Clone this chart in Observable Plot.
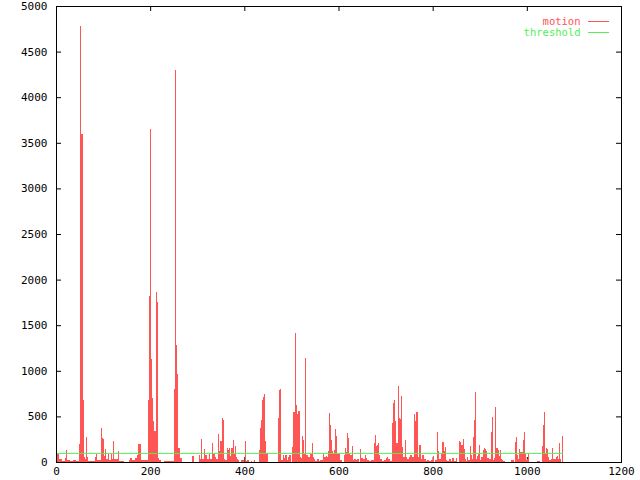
<!DOCTYPE html>
<html>
<head>
<meta charset="utf-8">
<script src="https://cdn.jsdelivr.net/npm/d3@7"></script>
<script src="https://cdn.jsdelivr.net/npm/@observablehq/plot@0.6"></script>
<style>
  html, body { margin: 0; padding: 0; background: #ffffff; }
  #chart { width: 640px; height: 480px; }
</style>
</head>
<body>
<div id="chart"></div>
<script>
// ---- data ----
const seriesNames = ["motion", "threshold"];
const seriesColors = ["#ff5555", "#55ee55"];
const xTicks = [0, 200, 400, 600, 800, 1000, 1200];
const yTicks = [0, 500, 1000, 1500, 2000, 2500, 3000, 3500, 4000, 4500, 5000];
const thresholdValue = 100;
const motionEnd = 1077;

// start of each run of frames and its motion value (each run lasts until the next start)
const motionStart = [
  0, 3, 7, 12, 20, 21.6, 23.7, 30, 36, 42, 47.8, 50, 52, 54, 56.5, 58.5, 61.3, 62.7, 64.8, 67,
  69, 81.8, 84.7, 86.8, 94.6, 96.7, 98.9, 101, 104.5, 106.6, 110.2, 113, 115.9, 118, 120.1, 122.2,
  130.7, 132.2, 134.3, 143.5, 154, 158, 161, 164.7, 168, 171.8, 174.7, 180.3, 194.5, 197, 199,
  201, 203, 205, 207, 209, 213, 215.5, 217.5, 218.6, 223, 228.5, 249.8, 253.3, 255.5, 257.3, 259,
  263, 267.5, 288.7, 292.3, 302.9, 305.7, 307.8, 310, 313.5, 315.6, 320.6, 324.9, 327, 330.5,
  333.4, 336.9, 339.7, 343.3, 346.1, 349, 351.8, 353.9, 356, 358.9, 363.1, 366, 368, 370.2,
  372.3, 375.2, 377.3, 379.4, 382.2, 384.4, 386.5, 389.3, 393, 395.7, 398.5, 400.7, 402.8,
  406.3, 410.6, 414.8, 417, 419.8, 422, 430.4, 433.3, 435.4, 437.5, 439.6, 441.8, 443.9, 446.7,
  449.6, 470.8, 473.7, 476.5, 478.6, 481.5, 484.3, 487.1, 490, 492.8, 495.6, 498.5, 501.3,
  504.1, 507, 508.6, 510.4, 512.6, 514.8, 517.6, 520.4, 522.6, 524.7, 526.8, 528.6, 530.6,
  534.6, 537.4, 540.3, 543.1, 545.9, 547.4, 551, 554.5, 558, 561.6, 566.5, 569.4, 572.9, 575.7,
  577.9, 580, 582.1, 583.5, 585.7, 587.8, 590.6, 592.7, 594.9, 597, 599.8, 604.1, 607.6, 611.2,
  614, 616.1, 618.3, 620.4, 622.5, 625.3, 628.2, 629.6, 631.7, 633.8, 636.7, 639.5, 643, 646.6,
  648.7, 651.5, 655.8, 657.9, 660.8, 665.7, 669.3, 672.1, 674.9, 677.8, 679.9, 682, 684.9, 687,
  689.1, 692.7, 696.2, 700.5, 703.3, 706.1, 709.7, 713.2, 715.3, 717.5, 718.9, 721, 723.1, 726,
  728.1, 730.2, 733.1, 735.2, 737.3, 741.6, 743.7, 746.5, 749.4, 752.9, 755.8, 760, 762.1,
  764.2, 769.2, 772, 774.2, 777, 781.2, 785.5, 788.3, 791.9, 795.4, 799, 801.1, 803.2, 806,
  808.2, 810.3, 813.1, 817.4, 820.2, 823.8, 826, 828, 830.9, 834.4, 838, 841.5, 845, 848.6,
  852.1, 855, 857.8, 860.6, 864.2, 866.3, 868.4, 870.6, 872.7, 874.8, 879, 881.2, 883.3, 885.4,
  887.5, 889.7, 891.8, 893.9, 896.1, 898.2, 900.3, 902.5, 906.7, 908.9, 911, 913.1, 915.9,
  918.8, 923, 925.1, 927.3, 928.7, 930.8, 933, 935, 937.9, 940, 942.1, 944.3, 947.8, 949.9,
  952.8, 965.5, 972.6, 974.7, 976.9, 979, 981.8, 984, 986.1, 991, 993.2, 995.3, 998.1, 1000.9,
  1003.1, 1005.2, 1022.2, 1027.2, 1031.4, 1033.5, 1036.4, 1038.5, 1040.6, 1042.8, 1045.6,
  1047.7, 1050.6, 1052.7, 1054.8, 1061.9, 1064, 1066.2, 1068.3, 1070.4, 1072.5, 1074.7
];
const motionValue = [
  330, 88, 37, 15, 40, 135, 20, 10, 18, 12, 197, 1020, 4780, 3600, 680, 60, 30, 274, 50, 20,
  10, 58, 84, 20, 373, 263, 252, 69, 142, 37, 84, 22, 84, 37, 234, 30,
  20, 124, 10, 5, 25, 40, 20, 25, 45, 73, 201, 20, 680, 1820, 3651,
  1129, 700, 900, 450, 340, 1864, 1754, 40, 22, 3, 10, 800, 4298, 1283, 965, 150,
  40, 5, 66, 5, 77, 30, 252, 33, 143, 77, 30, 88, 33, 212,
  84, 51, 33, 310, 120, 230, 482, 460, 37, 22, 150, 131, 150, 69,
  150, 241, 84, 175, 58, 33, 22, 4, 20, 26, 3, 234, 10,
  20, 4, 10, 4, 22, 2, 131, 376, 460, 680, 716, 742, 234, 95,
  5, 479, 790, 800, 22, 77, 40, 77, 22, 58, 73, 5, 161,
  552, 1231, 1418, 621, 523, 559, 51, 40, 285, 241, 84, 1140, 77,
  51, 58, 91, 212, 58, 37, 10, 37, 10, 20, 84, 51, 69, 58,
  117, 533, 402, 241, 117, 84, 131, 361, 285, 95, 88, 22, 2, 77,
  150, 113, 318, 263, 84, 77, 120, 179, 22, 37, 22, 33, 2, 146,
  40, 33, 77, 40, 26, 10, 26, 22, 208, 296, 175, 186, 204, 77,
  37, 10, 26, 40, 51, 33, 10, 424, 643, 442, 680, 450, 204, 830,
  479, 468, 724, 161, 58, 241, 58, 37, 50, 77, 58, 526, 453,
  548, 58, 186, 33, 77, 37, 10, 26, 10, 26, 22, 66, 4, 22,
  332, 117, 37, 84, 223, 124, 161, 22, 10, 37, 10, 48, 10, 40,
  4, 234, 219, 186, 252, 146, 37, 10, 51, 22, 179, 77, 37, 270,
  460, 772, 30, 69, 84, 186, 22, 51, 131, 157, 139, 117, 40,
  37, 332, 497, 37, 22, 40, 607, 150, 131, 69, 131, 37, 22, 10,
  2, 22, 2, 223, 270, 77, 37, 142, 113, 241, 332, 95, 22, 37,
  91, 2, 10, 4, 175, 406, 552, 95, 150, 139, 51,
  22, 37, 150, 37, 58, 69, 37, 204, 37, 2, 285
];

// table for the library
const motionRuns = motionStart.map((s, i) => ({
  x1: s,
  x2: i + 1 < motionStart.length ? motionStart[i + 1] : motionEnd,
  value: motionValue[i]
}));

// legend swatch lines, placed relative to the frame's top-right corner
function legendSwatches(index, scales, values, dims) {
  const ns = "http://www.w3.org/2000/svg";
  const g = document.createElementNS(ns, "g");
  const right = dims.width - dims.marginRight;
  seriesNames.forEach((name, i) => {
    const line = document.createElementNS(ns, "line");
    const yy = dims.marginTop + 15.5 + i * 11;
    line.setAttribute("x1", right - 33);
    line.setAttribute("x2", right - 12);
    line.setAttribute("y1", yy);
    line.setAttribute("y2", yy);
    line.setAttribute("stroke", seriesColors[i]);
    line.setAttribute("stroke-width", 1);
    g.appendChild(line);
  });
  return g;
}

const chart = Plot.plot({
  width: 640,
  height: 480,
  marginLeft: 56,
  marginRight: 19,
  marginTop: 6,
  marginBottom: 18,
  x: { domain: [0, 1200], label: null },
  y: { domain: [0, 5000], label: null },
  style: { fontFamily: "'DejaVu Sans Mono', monospace", fontSize: "11px", background: "#ffffff", color: "#000000" },
  marks: [
    // inward tick marks on all four sides
    Plot.ruleX(xTicks, { insetTop: 451, stroke: "#000000" }),
    Plot.ruleX(xTicks, { insetBottom: 451, stroke: "#000000" }),
    Plot.ruleY(yTicks, { insetRight: 560, stroke: "#000000" }),
    Plot.ruleY(yTicks, { insetLeft: 560, stroke: "#000000" }),
    // motion impulses
    Plot.rectY(motionRuns, { x1: "x1", x2: "x2", y: "value", fill: seriesColors[0], shapeRendering: "crispEdges" }),
    // threshold
    Plot.ruleY([thresholdValue], { x1: motionStart[0], x2: motionEnd, stroke: seriesColors[1], strokeWidth: 1 }),
    Plot.frame({ stroke: "#000000" }),
    Plot.axisX({ ticks: xTicks, tickSize: 0, tickPadding: 5, tickFormat: d3.format("d"), fill: "#000000", label: null }),
    Plot.axisY({ ticks: yTicks, tickSize: 0, tickPadding: 9, tickFormat: d3.format("d"), fill: "#000000", label: null }),
    // legend labels
    Plot.text([seriesNames[0]], { frameAnchor: "top-right", lineAnchor: "middle", text: d => d, dx: -41, dy: 15.5, fill: seriesColors[0], textAnchor: "end", fontSize: 10.5 }),
    Plot.text([seriesNames[1]], { frameAnchor: "top-right", lineAnchor: "middle", text: d => d, dx: -41, dy: 26.5, fill: seriesColors[1], textAnchor: "end", fontSize: 10.5 }),
    legendSwatches
  ]
});
document.getElementById("chart").appendChild(chart);
</script>
</body>
</html>
